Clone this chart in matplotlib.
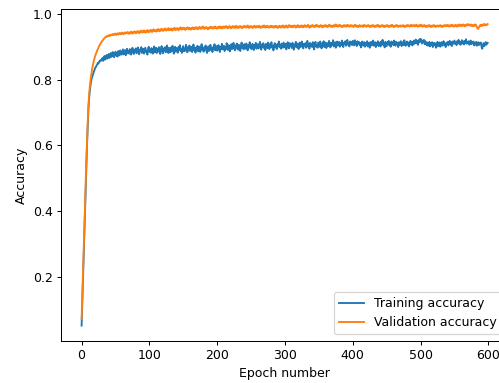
import matplotlib
matplotlib.use("Agg")
import matplotlib.pyplot as plt

# Per-epoch accuracy (epochs 0..599)
train_acc = [
    0.052, 0.121, 0.190, 0.262, 0.331, 0.402, 0.471, 0.538, 0.601, 0.659,
    0.708, 0.741, 0.763, 0.781, 0.794, 0.804, 0.811, 0.819, 0.824, 0.829,
    0.836, 0.838, 0.843, 0.846, 0.851, 0.849, 0.855, 0.858, 0.856, 0.861,
    0.860, 0.866, 0.857, 0.869, 0.872, 0.861, 0.868, 0.875, 0.864, 0.871,
    0.878, 0.866, 0.873, 0.881, 0.869, 0.876, 0.884, 0.871, 0.868, 0.879,
    0.885, 0.873, 0.880, 0.870, 0.887, 0.878, 0.874, 0.889, 0.881, 0.876,
    0.884, 0.892, 0.877, 0.882, 0.890, 0.874, 0.886, 0.894, 0.880, 0.887,
    0.879, 0.893, 0.884, 0.876, 0.889, 0.897, 0.883, 0.878, 0.891, 0.886,
    0.895, 0.880, 0.888, 0.898, 0.883, 0.877, 0.892, 0.887, 0.899, 0.881,
    0.886, 0.894, 0.879, 0.890, 0.897, 0.884, 0.888, 0.876, 0.893, 0.900,
    0.885, 0.891, 0.882, 0.896, 0.887, 0.879, 0.894, 0.901, 0.883, 0.889,
    0.897, 0.881, 0.892, 0.886, 0.899, 0.884, 0.878, 0.893, 0.902, 0.887,
    0.880, 0.895, 0.889, 0.899, 0.883, 0.891, 0.904, 0.886, 0.881, 0.897,
    0.890, 0.883, 0.898, 0.887, 0.903, 0.892, 0.879, 0.894, 0.900, 0.885,
    0.896, 0.888, 0.882, 0.899, 0.891, 0.905, 0.887, 0.893, 0.881, 0.897,
    0.902, 0.886, 0.894, 0.888, 0.906, 0.892, 0.883, 0.899, 0.890, 0.904,
    0.887, 0.895, 0.900, 0.884, 0.893, 0.907, 0.889, 0.896, 0.882, 0.898,
    0.891, 0.903, 0.886, 0.895, 0.900, 0.884, 0.897, 0.908, 0.890, 0.894,
    0.885, 0.899, 0.892, 0.904, 0.888, 0.881, 0.896, 0.901, 0.887, 0.893,
    0.906, 0.890, 0.897, 0.884, 0.899, 0.893, 0.908, 0.889, 0.895, 0.902,
    0.888, 0.896, 0.905, 0.891, 0.884, 0.900, 0.894, 0.909, 0.892, 0.898,
    0.903, 0.887, 0.899, 0.893, 0.911, 0.896, 0.890, 0.905, 0.898, 0.886,
    0.901, 0.908, 0.893, 0.897, 0.912, 0.899, 0.889, 0.904, 0.895, 0.910,
    0.897, 0.891, 0.906, 0.900, 0.887, 0.903, 0.913, 0.896, 0.901, 0.892,
    0.908, 0.899, 0.894, 0.910, 0.897, 0.889, 0.905, 0.900, 0.914, 0.895,
    0.901, 0.893, 0.909, 0.903, 0.890, 0.906, 0.898, 0.912, 0.894, 0.902,
    0.908, 0.895, 0.900, 0.915, 0.903, 0.891, 0.907, 0.899, 0.911, 0.896,
    0.904, 0.890, 0.909, 0.901, 0.896, 0.913, 0.905, 0.893, 0.908, 0.900,
    0.914, 0.897, 0.903, 0.889, 0.906, 0.911, 0.898, 0.904, 0.893, 0.909,
    0.901, 0.916, 0.899, 0.906, 0.894, 0.910, 0.902, 0.897, 0.913, 0.905,
    0.898, 0.909, 0.892, 0.904, 0.914, 0.900, 0.895, 0.911, 0.903, 0.908,
    0.896, 0.912, 0.905, 0.891, 0.907, 0.901, 0.915, 0.898, 0.904, 0.910,
    0.893, 0.906, 0.913, 0.899, 0.903, 0.916, 0.902, 0.895, 0.909, 0.904,
    0.911, 0.897, 0.905, 0.918, 0.900, 0.908, 0.894, 0.912, 0.903, 0.907,
    0.899, 0.914, 0.906, 0.892, 0.909, 0.915, 0.901, 0.905, 0.897, 0.913,
    0.906, 0.900, 0.916, 0.903, 0.895, 0.910, 0.904, 0.917, 0.899, 0.908,
    0.913, 0.896, 0.905, 0.911, 0.902, 0.918, 0.907, 0.898, 0.912, 0.904,
    0.909, 0.920, 0.901, 0.906, 0.914, 0.897, 0.910, 0.916, 0.903, 0.908,
    0.915, 0.900, 0.911, 0.905, 0.919, 0.907, 0.899, 0.913, 0.909, 0.917,
    0.903, 0.910, 0.921, 0.906, 0.912, 0.901, 0.916, 0.908, 0.914, 0.905,
    0.918, 0.911, 0.904, 0.920, 0.907, 0.913, 0.902, 0.917, 0.909, 0.915,
    0.906, 0.912, 0.898, 0.910, 0.916, 0.903, 0.908, 0.914, 0.900, 0.911,
    0.905, 0.917, 0.901, 0.909, 0.913, 0.897, 0.907, 0.915, 0.904, 0.910,
    0.919, 0.903, 0.908, 0.914, 0.899, 0.912, 0.906, 0.917, 0.902, 0.909,
    0.913, 0.901, 0.916, 0.907, 0.921, 0.905, 0.911, 0.898, 0.915, 0.908,
    0.902, 0.914, 0.909, 0.918, 0.904, 0.911, 0.900, 0.916, 0.907, 0.913,
    0.905, 0.919, 0.910, 0.903, 0.915, 0.908, 0.912, 0.899, 0.914, 0.906,
    0.911, 0.917, 0.902, 0.909, 0.914, 0.905, 0.920, 0.908, 0.903, 0.912,
    0.916, 0.906, 0.913, 0.901, 0.910, 0.918, 0.907, 0.915, 0.904, 0.912,
    0.919, 0.909, 0.914, 0.922, 0.911, 0.917, 0.906, 0.920, 0.913, 0.924,
    0.916, 0.923, 0.910, 0.918, 0.914, 0.921, 0.908, 0.917, 0.912, 0.905,
    0.913, 0.903, 0.909, 0.915, 0.901, 0.911, 0.906, 0.914, 0.899, 0.908,
    0.912, 0.904, 0.910, 0.897, 0.907, 0.915, 0.902, 0.909, 0.913, 0.900,
    0.906, 0.914, 0.903, 0.911, 0.917, 0.905, 0.910, 0.899, 0.912, 0.908,
    0.915, 0.904, 0.911, 0.918, 0.907, 0.913, 0.902, 0.916, 0.909, 0.914,
    0.919, 0.908, 0.913, 0.905, 0.917, 0.911, 0.921, 0.909, 0.915, 0.906,
    0.914, 0.920, 0.910, 0.916, 0.907, 0.918, 0.912, 0.923, 0.909, 0.915,
    0.911, 0.917, 0.906, 0.913, 0.919, 0.908, 0.914, 0.910, 0.916, 0.904,
    0.912, 0.907, 0.915, 0.903, 0.910, 0.914, 0.905, 0.911, 0.908, 0.913,
    0.899, 0.894, 0.905, 0.911, 0.902, 0.908, 0.914, 0.906, 0.910, 0.912,
]

val_acc = [
    0.072, 0.138, 0.205, 0.276, 0.345, 0.417, 0.486, 0.553, 0.614, 0.671,
    0.719, 0.752, 0.776, 0.796, 0.812, 0.826, 0.838, 0.848, 0.857, 0.865,
    0.872, 0.878, 0.884, 0.889, 0.893, 0.898, 0.903, 0.906, 0.910, 0.913,
    0.917, 0.919, 0.922, 0.925, 0.927, 0.929, 0.931, 0.930, 0.933, 0.932,
    0.935, 0.933, 0.936, 0.934, 0.937, 0.935, 0.938, 0.936, 0.939, 0.937,
    0.940, 0.936, 0.939, 0.941, 0.937, 0.940, 0.942, 0.938, 0.941, 0.939,
    0.943, 0.940, 0.938, 0.942, 0.944, 0.940, 0.943, 0.941, 0.945, 0.942,
    0.939, 0.944, 0.941, 0.946, 0.943, 0.940, 0.945, 0.942, 0.947, 0.944,
    0.941, 0.946, 0.943, 0.948, 0.944, 0.941, 0.947, 0.945, 0.949, 0.943,
    0.947, 0.944, 0.950, 0.946, 0.943, 0.948, 0.945, 0.951, 0.947, 0.944,
    0.949, 0.946, 0.952, 0.948, 0.945, 0.950, 0.953, 0.947, 0.951, 0.949,
    0.946, 0.952, 0.948, 0.954, 0.950, 0.947, 0.953, 0.949, 0.955, 0.951,
    0.948, 0.953, 0.950, 0.956, 0.951, 0.949, 0.954, 0.952, 0.957, 0.950,
    0.954, 0.951, 0.956, 0.952, 0.949, 0.955, 0.953, 0.958, 0.951, 0.955,
    0.952, 0.957, 0.954, 0.950, 0.956, 0.953, 0.959, 0.955, 0.952, 0.957,
    0.954, 0.958, 0.955, 0.951, 0.957, 0.954, 0.959, 0.956, 0.953, 0.958,
    0.955, 0.952, 0.957, 0.954, 0.959, 0.956, 0.953, 0.958, 0.955, 0.960,
    0.956, 0.953, 0.958, 0.955, 0.961, 0.957, 0.954, 0.959, 0.956, 0.962,
    0.957, 0.954, 0.959, 0.956, 0.960, 0.957, 0.953, 0.958, 0.955, 0.960,
    0.957, 0.961, 0.956, 0.959, 0.955, 0.960, 0.957, 0.962, 0.958, 0.955,
    0.959, 0.956, 0.961, 0.958, 0.962, 0.957, 0.960, 0.956, 0.961, 0.958,
    0.962, 0.957, 0.960, 0.963, 0.958, 0.961, 0.956, 0.960, 0.963, 0.959,
    0.956, 0.961, 0.958, 0.963, 0.959, 0.962, 0.957, 0.961, 0.964, 0.958,
    0.961, 0.957, 0.962, 0.959, 0.963, 0.960, 0.957, 0.962, 0.958, 0.961,
    0.964, 0.959, 0.962, 0.958, 0.961, 0.965, 0.960, 0.957, 0.962, 0.959,
    0.963, 0.960, 0.957, 0.962, 0.959, 0.964, 0.961, 0.958, 0.963, 0.960,
    0.962, 0.959, 0.964, 0.960, 0.957, 0.962, 0.959, 0.963, 0.960, 0.965,
    0.961, 0.958, 0.963, 0.960, 0.964, 0.961, 0.958, 0.962, 0.959, 0.964,
    0.960, 0.963, 0.959, 0.962, 0.958, 0.963, 0.960, 0.964, 0.961, 0.957,
    0.962, 0.959, 0.964, 0.961, 0.958, 0.963, 0.960, 0.965, 0.961, 0.958,
    0.963, 0.960, 0.965, 0.961, 0.958, 0.962, 0.966, 0.961, 0.964, 0.960,
    0.963, 0.959, 0.964, 0.961, 0.965, 0.962, 0.958, 0.963, 0.960, 0.966,
    0.962, 0.959, 0.963, 0.960, 0.965, 0.961, 0.964, 0.959, 0.962, 0.966,
    0.961, 0.964, 0.960, 0.963, 0.967, 0.962, 0.958, 0.963, 0.960, 0.965,
    0.962, 0.966, 0.961, 0.964, 0.960, 0.963, 0.967, 0.962, 0.965, 0.961,
    0.964, 0.960, 0.963, 0.966, 0.962, 0.959, 0.964, 0.961, 0.965, 0.962,
    0.966, 0.961, 0.964, 0.960, 0.963, 0.967, 0.962, 0.965, 0.961, 0.964,
    0.960, 0.963, 0.966, 0.961, 0.964, 0.968, 0.962, 0.965, 0.961, 0.964,
    0.967, 0.962, 0.965, 0.961, 0.964, 0.960, 0.963, 0.966, 0.962, 0.965,
    0.961, 0.964, 0.967, 0.962, 0.965, 0.961, 0.963, 0.966, 0.962, 0.965,
    0.963, 0.960, 0.964, 0.967, 0.962, 0.965, 0.961, 0.964, 0.960, 0.963,
    0.966, 0.961, 0.964, 0.962, 0.965, 0.960, 0.963, 0.967, 0.962, 0.964,
    0.961, 0.965, 0.962, 0.966, 0.963, 0.960, 0.964, 0.961, 0.965, 0.962,
    0.966, 0.963, 0.960, 0.964, 0.961, 0.965, 0.962, 0.967, 0.963, 0.960,
    0.964, 0.961, 0.965, 0.962, 0.966, 0.963, 0.960, 0.964, 0.961, 0.965,
    0.962, 0.966, 0.963, 0.960, 0.964, 0.961, 0.965, 0.962, 0.967, 0.963,
    0.960, 0.964, 0.961, 0.965, 0.962, 0.966, 0.963, 0.960, 0.964, 0.962,
    0.965, 0.961, 0.964, 0.962, 0.966, 0.963, 0.960, 0.964, 0.961, 0.965,
    0.962, 0.966, 0.963, 0.965, 0.961, 0.964, 0.967, 0.962, 0.965, 0.963,
    0.966, 0.962, 0.965, 0.963, 0.967, 0.964, 0.961, 0.965, 0.962, 0.966,
    0.963, 0.967, 0.964, 0.961, 0.965, 0.962, 0.966, 0.963, 0.960, 0.964,
    0.961, 0.965, 0.962, 0.966, 0.963, 0.960, 0.964, 0.961, 0.965, 0.962,
    0.966, 0.963, 0.960, 0.964, 0.962, 0.965, 0.961, 0.964, 0.962, 0.966,
    0.963, 0.960, 0.964, 0.961, 0.965, 0.963, 0.966, 0.962, 0.965, 0.963,
    0.967, 0.964, 0.961, 0.965, 0.962, 0.966, 0.963, 0.967, 0.964, 0.961,
    0.965, 0.963, 0.967, 0.964, 0.961, 0.966, 0.963, 0.968, 0.964, 0.966,
    0.963, 0.967, 0.964, 0.968, 0.965, 0.962, 0.966, 0.964, 0.968, 0.965,
    0.969, 0.965, 0.967, 0.964, 0.968, 0.965, 0.962, 0.966, 0.963, 0.967,
    0.964, 0.968, 0.965, 0.960, 0.956, 0.954, 0.959, 0.963, 0.966, 0.963,
    0.967, 0.964, 0.968, 0.965, 0.969, 0.966, 0.968, 0.965, 0.967, 0.969,
]

epochs = list(range(len(train_acc)))

DPI = 90
fig = plt.figure(figsize=(499 / DPI, 383 / DPI), dpi=DPI)
ax = fig.add_axes([61.3 / 499, 42.3 / 383, 446.7 / 499, 331.7 / 383])

ax.plot(epochs, train_acc, color="#1f77b4", label="Training accuracy")
ax.plot(epochs, val_acc, color="#ff7f0e", label="Validation accuracy")

ax.set_xticks([0, 100, 200, 300, 400, 500, 600])
ax.set_yticks([0.2, 0.4, 0.6, 0.8, 1.0])
ax.set_xlabel("Epoch number")
ax.set_ylabel("Accuracy")
ax.legend(loc="lower right")

fig.savefig("out.png", dpi=DPI)
